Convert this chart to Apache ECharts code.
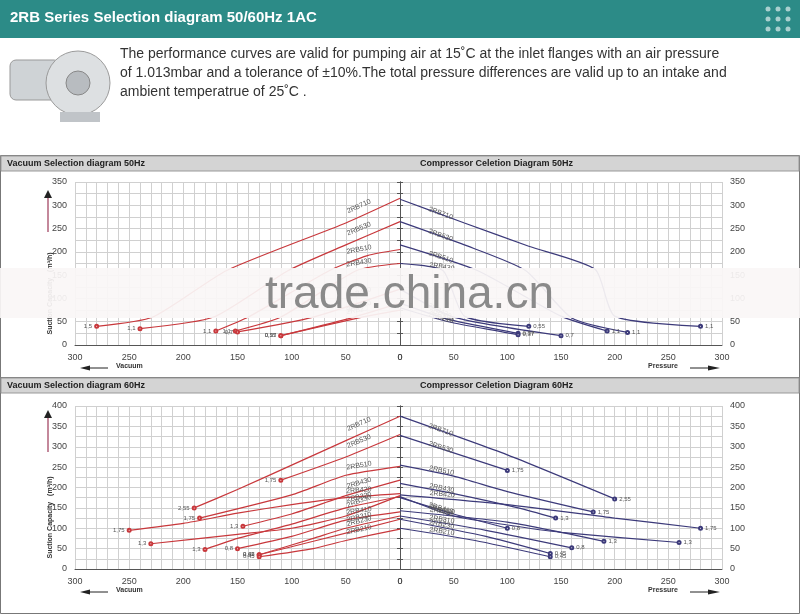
<!DOCTYPE html>
<html><head><meta charset="utf-8">
<script src="https://cdn.jsdelivr.net/npm/echarts@6/dist/echarts.min.js"></script>
<style>html,body{margin:0;padding:0;background:#fff}#c{width:800px;height:614px}</style>
</head><body><div id="c"></div>
<script>
// ---- data: [x, y] points for each curve ----
// Vacuum 50Hz (x = vacuum mbar, y = m3/h)
const vac50Names = ['2RB710','2RB530','2RB510','2RB430','2RB420','2RB330','2RB2..'];
const vac50Start = ['1,5','1,1','1,1','1,1','0,7','0,55','0,37'];
const vac50 = [
  [[280,40],[228,60],[160,160],[50,262],[0,315]],
  [[240,35],[172,60],[103,160],[50,215],[0,265]],
  [[170,30],[140,60],[65,160],[30,192],[0,205]],
  [[152,30],[110,60],[40,160],[0,175]],
  [[150,28],[80,60],[0,120]],
  [[110,20],[50,55],[0,90]],
  [[110,20],[35,60],[0,75]]
];
// Compressor 50Hz (x = pressure mbar)
const cmp50Names = ['2RB710','2RB530','2RB510','2RB430','2RB420','2RB310','2RB210'];
const cmp50End = ['1,1','1,1','1,1','0,55','0,7','0,37','0,37'];
const cmp50 = [
  [[0,313],[60,262],[120,212],[182,162],[200,62],[280,40]],
  [[0,265],[60,215],[117,160],[160,58],[212,27]],
  [[0,215],[72,160],[150,62],[193,30]],
  [[0,175],[40,160],[60,62],[120,40]],
  [[0,120],[50,60],[150,20]],
  [[0,90],[45,55],[110,25]],
  [[0,80],[45,50],[110,22]]
];
// Vacuum 60Hz
const vac60Names = ['2RB710','2RB530','2RB510','2RB430','2RB420','2RB330','2RB320','2RB410','2RB310','2RB230','2RB210'];
const vac60Start = ['2,55','1,75','1,75','1,3','1,75','1,3','1,3','0,8','0,62','0,45','0,45'];
const vac60 = [
  [[190,150],[150,195],[100,255],[50,315],[0,375]],
  [[110,218],[50,275],[0,330]],
  [[185,125],[100,182],[50,230],[0,252]],
  [[145,105],[100,135],[50,180],[0,218]],
  [[250,95],[200,112],[150,137],[100,158],[50,175],[0,185]],
  [[230,62],[150,85],[100,100],[50,130],[0,180]],
  [[180,48],[150,75],[100,110],[50,150],[0,178]],
  [[150,50],[100,80],[50,120],[0,140]],
  [[130,35],[80,75],[50,100],[0,130]],
  [[130,35],[80,68],[0,122]],
  [[130,30],[80,50],[50,70],[0,98]]
];
// Compressor 60Hz
const cmp60Names = ['2RB710','2RB530','2RB510','2RB430','2RB420','2RB330','2RB410','2RB320','2RB310','2RB230','2RB210'];
const cmp60End = ['2,55','1,75','1,75','1,3','1,75','1,3','0,8','1,3','0,8','0,45','0,45'];
const cmp60 = [
  [[0,375],[100,280],[200,172]],
  [[0,328],[100,242]],
  [[0,255],[50,228],[100,190],[180,140]],
  [[0,210],[50,185],[110,150],[145,125]],
  [[0,182],[100,158],[200,125],[280,100]],
  [[0,178],[50,130],[100,108],[150,90],[260,65]],
  [[0,175],[50,135],[100,100]],
  [[0,143],[100,115],[190,68]],
  [[0,130],[80,95],[160,52]],
  [[0,122],[80,80],[140,38]],
  [[0,100],[70,70],[140,30]]
];

const RED = '#c8383c', BLUE = '#3c3a7a';
const grids = [
  {left: 75, top: 182, width: 325, height: 163},
  {left: 400, top: 182, width: 322, height: 163},
  {left: 75, top: 406, width: 325, height: 163},
  {left: 400, top: 406, width: 322, height: 163}
];
function mk(sets, names, tags, gi, color, isVac){
  const gr = grids[gi], ymax = gi < 2 ? 350 : 400;
  const sx = gr.width / 300, sy = gr.height / ymax;
  return sets.map((pts, i) => {
    const n = pts.length;
    const a = isVac ? pts[n - 2] : pts[0], b = isVac ? pts[n - 1] : pts[1];
    // screen dy per screen dx moving right
    const slope = -((b[1] - a[1]) * sy) / (Math.abs(b[0] - a[0]) * sx);
    const dx = isVac ? -42 : 42;
    const ang = Math.atan(-slope);
    const data = pts.map((p, j) => {
      const item = {value: p, symbol: 'none'};
      const isTag = isVac ? j === 0 : j === n - 1;
      if (isTag) {
        item.symbol = 'emptyCircle'; item.symbolSize = 3;
        item.label = {show: true, formatter: tags[i], position: isVac ? 'left' : 'right', fontSize: 6, color: '#555', distance: 2};
      }
      const ni = isVac ? n - 1 : 0;
      if (j === ni) {
        item.symbol = 'circle'; item.symbolSize = 0.1;
        item.label = {show: true, formatter: names[i], position: [dx - 12, dx * slope - 9],
          fontSize: 7, color: '#555', rotate: ang * 180 / Math.PI, align: 'left'};
      }
      return item;
    });
    return {type: 'line', xAxisIndex: gi, yAxisIndex: gi, data, symbol: 'none', showSymbol: true,
      lineStyle: {color, width: 1.2}, itemStyle: {color}, smooth: 0.2, animation: false, z: 3,
      labelLayout: {hideOverlap: false}};
  });
}
const series = [].concat(
  mk(vac50, vac50Names, vac50Start, 0, RED, true),
  mk(cmp50, cmp50Names, cmp50End, 1, BLUE, false),
  mk(vac60, vac60Names, vac60Start, 2, RED, true),
  mk(cmp60, cmp60Names, cmp60End, 3, BLUE, false)
);

const lbl = {fontSize: 9, color: '#444', fontFamily: 'Liberation Sans'};
const xAxis = grids.map((g, i) => ({gridIndex: i, type: 'value', min: 0, max: 300, interval: 10,
  inverse: i % 2 === 0,
  axisLine: {lineStyle: {color: '#555'}}, axisTick: {show: false},
  axisLabel: Object.assign({}, lbl, {formatter: v => v % 50 === 0 ? String(v) : '', showMinLabel: true, showMaxLabel: true}),
  splitLine: {show: true, lineStyle: {color: '#d0d0d0', width: 1}}}));
const yAxis = grids.map((g, i) => ({gridIndex: i, type: 'value', min: 0, max: i < 2 ? 350 : 400, interval: 25,
  position: i % 2 === 0 ? 'left' : 'right',
  axisLine: {show: true, lineStyle: {color: '#555'}}, axisTick: {show: true, length: 3},
  axisLabel: Object.assign({}, lbl, {formatter: v => v % 50 === 0 ? String(v) : '', show: true}),
  splitLine: {show: true, lineStyle: {color: '#d0d0d0', width: 1}}}));

const g = [];
g.push({type: 'rect', shape: {x: 0, y: 0, width: 800, height: 38}, style: {fill: '#2c8b87'}});
g.push({type: 'text', left: 10, top: 10, style: {text: '2RB Series Selection diagram 50/60Hz 1AC', fill: '#fff', font: 'bold 15px Liberation Sans'}});
for (let r = 0; r < 3; r++) for (let c = 0; c < 3; c++)
  g.push({type: 'circle', shape: {cx: 768 + c * 10, cy: 9 + r * 10, r: 2.5}, style: {fill: 'rgba(255,255,255,0.6)'}});
g.push({type: 'rect', shape: {x: 10, y: 60, width: 50, height: 40, r: 6}, style: {fill: '#cfd3d6', stroke: '#999'}});
g.push({type: 'circle', shape: {cx: 78, cy: 83, r: 32}, style: {fill: '#dde0e2', stroke: '#9a9a9a'}});
g.push({type: 'circle', shape: {cx: 78, cy: 83, r: 12}, style: {fill: '#b8bcc0', stroke: '#888'}});
g.push({type: 'rect', shape: {x: 60, y: 112, width: 40, height: 10}, style: {fill: '#c0c4c8'}});
const para = ['The performance curves are valid for pumping air at 15\u02daC at the inlet flanges with an air pressure',
  'of 1.013mbar and a tolerance of \u00b110%.The total pressure differences are valid up to an intake and',
  'ambient temperatrue of 25\u02daC .'];
para.forEach((t, i) => g.push({type: 'text', left: 120, top: 47 + i * 19,
  style: {text: t, fill: '#333', font: '14px Liberation Sans'}}));
[[155, 222, 'Vacuum Selection diagram 50Hz', 'Compressor Celetion Diagram 50Hz'],
 [377, 236, 'Vacuum Selection diagram 60Hz', 'Compressor Celetion Diagram 60Hz']].forEach(([y, h, a, b]) => {
  g.push({type: 'rect', shape: {x: 0.5, y: y + 0.5, width: 799, height: h}, style: {fill: 'none', stroke: '#777', lineWidth: 1}});
  g.push({type: 'rect', shape: {x: 1, y: y + 1, width: 798, height: 15}, style: {fill: '#d4d4d4', stroke: '#999'}});
  g.push({type: 'text', left: 7, top: y + 4, style: {text: a, fill: '#222', font: 'bold 9px Liberation Sans'}});
  g.push({type: 'text', left: 420, top: y + 4, style: {text: b, fill: '#222', font: 'bold 9px Liberation Sans'}});
});
[[182, 345, 190, 232], [406, 569, 410, 452]].forEach(([top, bot, a0, a1]) => {
  g.push({type: 'line', shape: {x1: 48, y1: a1, x2: 48, y2: a0 + 6}, style: {stroke: '#b0607a', lineWidth: 1.5}});
  g.push({type: 'polygon', shape: {points: [[44, a0 + 8], [52, a0 + 8], [48, a0]]}, style: {fill: '#222'}});
  g.push({type: 'text', x: 50, y: (top + bot) / 2 + 30, rotation: Math.PI / 2, style: {text: 'Suction Capacity   (m\u00b3/h)', fill: '#333', font: 'bold 7px Liberation Sans', align: 'center', verticalAlign: 'middle'}});
  const ay = bot + 23;
  g.push({type: 'line', shape: {x1: 84, y1: ay, x2: 108, y2: ay}, style: {stroke: '#222', lineWidth: 1}});
  g.push({type: 'polygon', shape: {points: [[80, ay], [90, ay - 2.5], [90, ay + 2.5]]}, style: {fill: '#222'}});
  g.push({type: 'text', left: 116, top: ay - 5, style: {text: 'Vacuum', fill: '#333', font: 'bold 7px Liberation Sans'}});
  g.push({type: 'text', left: 648, top: ay - 5, style: {text: 'Pressure', fill: '#333', font: 'bold 7px Liberation Sans'}});
  g.push({type: 'line', shape: {x1: 690, y1: ay, x2: 712, y2: ay}, style: {stroke: '#222', lineWidth: 1}});
  g.push({type: 'polygon', shape: {points: [[720, ay], [708, ay - 2.5], [708, ay + 2.5]]}, style: {fill: '#222'}});
});
g.push({type: 'rect', z: 100, shape: {x: 0, y: 268, width: 800, height: 50}, style: {fill: 'rgba(250,246,246,0.93)'}});
g.push({type: 'text', z: 101, left: 265, top: 272, style: {text: 'trade.china.cn', fill: '#8a8a8a', font: '46px Liberation Sans'}});

const chart = echarts.init(document.getElementById('c'), null, {renderer: 'canvas'});
chart.setOption({animation: false, grid: grids, xAxis, yAxis, series, graphic: g});
</script></body></html>
